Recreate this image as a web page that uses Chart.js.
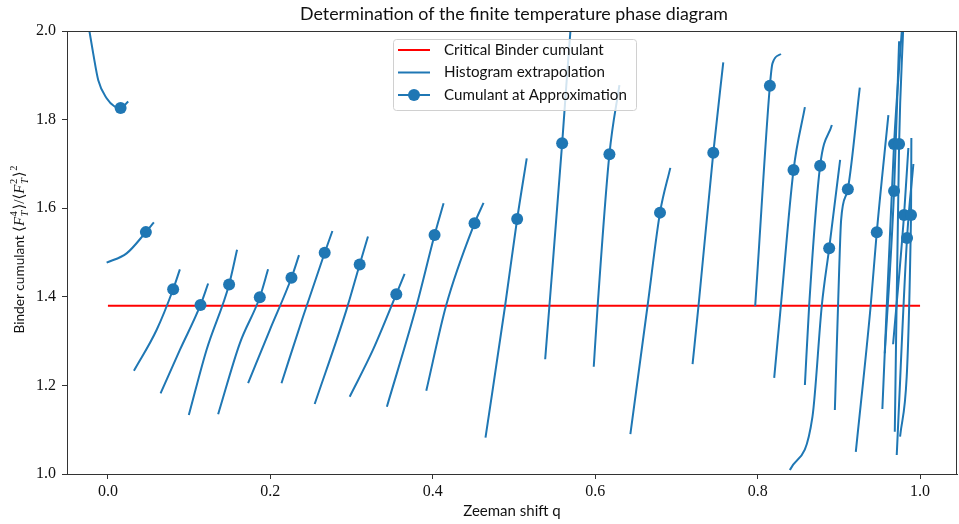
<!DOCTYPE html>
<html>
<head>
<meta charset="utf-8">
<script src="https://cdn.jsdelivr.net/npm/chart.js@4/dist/chart.umd.min.js"></script>
<style>
  html, body { margin: 0; padding: 0; background: #fff; overflow: hidden; }
  /* a little wider than the window: Chart.js keeps ~4px spare on the right */
  #wrap { width: 963px; height: 524px; }
</style>
</head>
<body>
<div id="wrap"><canvas id="chart"></canvas></div>
<script>
// Histogram extrapolation curves, one list per run (Zeeman shift q, Binder cumulant)
const histQ = [
    [-0.0230, -0.0181, -0.0119, -0.0016, 0.0086, 0.0156, 0.0250],
    [-0.0016, 0.0230, 0.0467, 0.0566],
    [0.0320, 0.0599, 0.0803, 0.0886],
    [0.0648, 0.0886, 0.1140, 0.1234],
    [0.0996, 0.1214, 0.1492, 0.1590],
    [0.1357, 0.1624, 0.1870, 0.1972],
    [0.1726, 0.1993, 0.2260, 0.2353],
    [0.2137, 0.2402, 0.2669, 0.2764],
    [0.2546, 0.2936, 0.3100, 0.3202],
    [0.2977, 0.3263, 0.3551, 0.3653],
    [0.3435, 0.3797, 0.4022, 0.4133],
    [0.3920, 0.4166, 0.4514, 0.4625],
    [0.4649, 0.4892, 0.5039, 0.5157],
    [0.5384, 0.5437, 0.5593, 0.5643, 0.5695],
    [0.5982, 0.6031, 0.6175, 0.6298],
    [0.6433, 0.6646, 0.6798, 0.6925],
    [0.7199, 0.7273, 0.7454, 0.7577],
    [0.7970, 0.7999, 0.8151, 0.8183, 0.8287],
    [0.8204, 0.8287, 0.8442, 0.8582],
    [0.8582, 0.8635, 0.8770, 0.8914],
    [0.8397, 0.8675, 0.8791, 0.8881, 0.9016],
    [0.8951, 0.9004, 0.9028, 0.9111, 0.9258],
    [0.9209, 0.9393, 0.9467, 0.9610],
    [0.9566, 0.9680, 0.9742],
    [0.9536, 0.9680, 0.9775],
    [0.9689, 0.9742, 0.9791],
    [0.9668, 0.9803, 0.9856],
    [0.9754, 0.9889, 0.9893],
    [0.9713, 0.9840, 0.9918]
];
const histB = [
    [2.002, 1.949, 1.889, 1.848, 1.829, 1.826, 1.841],
    [1.477, 1.498, 1.546, 1.568],
    [1.233, 1.325, 1.417, 1.462],
    [1.182, 1.280, 1.3815, 1.430],
    [1.133, 1.280, 1.428, 1.506],
    [1.135, 1.295, 1.399, 1.462],
    [1.205, 1.325, 1.443, 1.494],
    [1.205, 1.355, 1.4995, 1.5485],
    [1.158, 1.370, 1.473, 1.536],
    [1.1745, 1.280, 1.406, 1.4515],
    [1.152, 1.378, 1.5395, 1.611],
    [1.188, 1.3815, 1.566, 1.612],
    [1.082, 1.3815, 1.5756, 1.7126],
    [1.259, 1.3815, 1.7465, 1.874, 2.0],
    [1.242, 1.3815, 1.722, 1.878],
    [1.090, 1.3815, 1.590, 1.691],
    [1.248, 1.3815, 1.725, 1.929],
    [1.379, 1.4605, 1.8765, 1.927, 1.948],
    [1.217, 1.3815, 1.686, 1.828],
    [1.201, 1.3815, 1.696, 1.788],
    [1.009, 1.129, 1.3815, 1.5095, 1.709],
    [1.1445, 1.4605, 1.573, 1.643, 1.872],
    [1.050, 1.3815, 1.5456, 1.810],
    [1.2725, 1.6388, 1.9767],
    [1.1467, 1.7449, 2.0],
    [1.0955, 1.7449, 2.0],
    [1.2928, 1.5847, 1.7359],
    [1.0842, 1.5847, 1.7585],
    [1.0429, 1.5327, 1.6998]
];

// Cumulant at the approximated critical point
const markerQ = [0.0156, 0.0467, 0.0803, 0.1140, 0.1492, 0.1870, 0.2260, 0.2669, 0.3100, 0.3551,
    0.4022, 0.4514, 0.5039, 0.5593, 0.6175, 0.6798, 0.7454, 0.8151, 0.8442, 0.8770,
    0.8881, 0.9111, 0.9467, 0.9680, 0.9680, 0.9742, 0.9803, 0.9889, 0.9840];
const markerB = [1.826, 1.546, 1.417, 1.3815, 1.428, 1.399, 1.443, 1.4995, 1.473, 1.406,
    1.5395, 1.566, 1.5756, 1.7465, 1.722, 1.590, 1.725, 1.8765, 1.686, 1.696,
    1.5095, 1.643, 1.5456, 1.6388, 1.7449, 1.7449, 1.5847, 1.5847, 1.5327];

// Critical Binder cumulant
const criticalQ = [0.0, 1.0];
const criticalB = [1.38, 1.38];

const xTicks = [0.0, 0.2, 0.4, 0.6, 0.8, 1.0];
const yTicks = [1.0, 1.2, 1.4, 1.6, 1.8, 2.0];

const BLUE = '#1f77b4';
const SANS = 'Lato, "DejaVu Sans", sans-serif';
const SERIF = '"Liberation Serif", "DejaVu Serif", serif';

const datasets = [];
datasets.push({
    label: 'Critical Binder cumulant',
    data: criticalQ.map((q, i) => ({x: q, y: criticalB[i]})),
    showLine: true, borderColor: '#ff0000', borderWidth: 2, pointRadius: 0, order: 3
});
histQ.forEach((qs, k) => {
    datasets.push({
        label: 'Histogram extrapolation',
        data: qs.map((q, i) => ({x: q, y: histB[k][i]})),
        showLine: true, borderColor: BLUE, borderWidth: 2, pointRadius: 0,
        cubicInterpolationMode: 'monotone', order: 2
    });
});
datasets.push({
    label: 'Cumulant at Approximation',
    data: markerQ.map((q, i) => ({x: q, y: markerB[i]})),
    showLine: false, backgroundColor: BLUE, borderColor: BLUE, borderWidth: 0,
    pointRadius: 6, order: 1
});

// font size so that text takes a given width
function fitFont(ctx, text, family, width, style) {
    ctx.font = (style || '') + ' 20px ' + family;
    return 20 * width / ctx.measureText(text).width;
}

// title, frame, legend and y label drawn by hand (matplotlib style)
const decorations = {
    id: 'decorations',
    afterDraw(chart) {
        const ctx = chart.ctx;
        const a = chart.chartArea;
        ctx.save();
        // frame
        ctx.strokeStyle = '#333';
        ctx.lineWidth = 1;
        ctx.strokeRect(a.left + 0.5, a.top + 0.5, a.right - a.left - 1, a.bottom - a.top);

        // title
        const title = 'Determination of the finite temperature phase diagram';
        const ts = fitFont(ctx, title, SANS, 428);
        ctx.fillStyle = '#111';
        ctx.font = ts + 'px ' + SANS;
        ctx.textAlign = 'center';
        ctx.textBaseline = 'middle';
        ctx.fillText(title, 514, 14);

        // legend
        const lx = 393, ly = 39, lw = 243, lh = 71;
        ctx.fillStyle = 'rgba(255,255,255,0.8)';
        ctx.strokeStyle = '#d0d0d0';
        ctx.beginPath();
        ctx.roundRect(lx + 0.5, ly + 0.5, lw, lh, 3);
        ctx.fill();
        ctx.stroke();
        const items = [
            {text: 'Critical Binder cumulant', color: '#ff0000', marker: false},
            {text: 'Histogram extrapolation', color: BLUE, marker: false},
            {text: 'Cumulant at Approximation', color: BLUE, marker: true}
        ];
        const ls = fitFont(ctx, items[2].text, SANS, 183);
        items.forEach((it, i) => {
            const y = 50 + i * 22.5;
            ctx.strokeStyle = it.color;
            ctx.lineWidth = 2;
            ctx.beginPath();
            ctx.moveTo(398, y);
            ctx.lineTo(430, y);
            ctx.stroke();
            if (it.marker) {
                ctx.fillStyle = it.color;
                ctx.beginPath();
                ctx.arc(414, y, 6, 0, Math.PI * 2);
                ctx.fill();
            }
            ctx.fillStyle = '#111';
            ctx.font = ls + 'px ' + SANS;
            ctx.textAlign = 'left';
            ctx.textBaseline = 'middle';
            ctx.fillText(it.text, 444, y);
        });

        // y axis label with math
        const bs = fitFont(ctx, 'Binder cumulant', SANS, 98);
        const parts = [
            {t: 'Binder cumulant ', f: bs + 'px ' + SANS},
            {t: '\u27E8', f: '15px ' + SERIF},
            {t: 'F', f: 'italic 15px ' + SERIF},
            {sup: '4', sub: 'T'},
            {t: '\u27E9/\u27E8', f: '15px ' + SERIF},
            {t: 'F', f: 'italic 15px ' + SERIF},
            {sup: '2', sub: 'T'},
            {t: '\u27E9', f: '15px ' + SERIF},
            {sup: '2'}
        ];
        const smallUp = '10.5px ' + SERIF;
        const smallDn = 'italic 10.5px ' + SERIF;
        let total = 0;
        parts.forEach(p => {
            if (p.t) { ctx.font = p.f; p.w = ctx.measureText(p.t).width; }
            else {
                ctx.font = smallUp; let w = ctx.measureText(p.sup).width;
                if (p.sub) { ctx.font = smallDn; w = Math.max(w, ctx.measureText(p.sub).width); }
                p.w = w + 1.5;
            }
            total += p.w;
        });
        ctx.translate(20, 249);
        ctx.rotate(-Math.PI / 2);
        ctx.fillStyle = '#111';
        ctx.textAlign = 'left';
        ctx.textBaseline = 'middle';
        let x = -total / 2;
        parts.forEach(p => {
            if (p.t) { ctx.font = p.f; ctx.fillText(p.t, x, 0); }
            else {
                ctx.font = smallUp; ctx.fillText(p.sup, x + 0.5, -5.5);
                if (p.sub) { ctx.font = smallDn; ctx.fillText(p.sub, x + 0.5, 5); }
            }
            x += p.w;
        });
        ctx.restore();
    }
};

new Chart(document.getElementById('chart'), {
    type: 'scatter',
    data: {datasets: datasets},
    options: {
        responsive: true,
        maintainAspectRatio: false,
        animation: false,
        layout: {padding: {top: 31, right: 1, left: 0, bottom: 0}},
        plugins: {
            legend: {display: false},
            tooltip: {enabled: false},
            title: {display: false}
        },
        scales: {
            x: {
                type: 'linear',
                min: -0.0504,
                max: 1.0455,
                afterFit: s => { s.height = 50; s.paddingLeft = 0; s.paddingRight = 0; },
                afterBuildTicks: s => { s.ticks = xTicks.map(v => ({value: v})); },
                ticks: {
                    callback: v => v.toFixed(1),
                    font: {family: SERIF, size: 16},
                    color: '#111',
                    padding: 3
                },
                grid: {drawOnChartArea: false, drawTicks: true, tickLength: 5, color: '#333'},
                border: {display: true, color: '#333'},
                title: {
                    display: true,
                    text: 'Zeeman shift q',
                    font: {family: SANS, size: 15},
                    color: '#111',
                    padding: {top: 0, bottom: 4}
                }
            },
            y: {
                type: 'linear',
                min: 1.0,
                max: 2.0,
                afterFit: s => { s.width = 67; },
                afterBuildTicks: s => { s.ticks = yTicks.map(v => ({value: v})); },
                ticks: {
                    callback: v => v.toFixed(1),
                    font: {family: SERIF, size: 16},
                    color: '#111',
                    padding: 6
                },
                grid: {drawOnChartArea: false, drawTicks: true, tickLength: 5, color: '#333'},
                border: {display: true, color: '#333'}
            }
        }
    },
    plugins: [decorations]
});
</script>
</body>
</html>
